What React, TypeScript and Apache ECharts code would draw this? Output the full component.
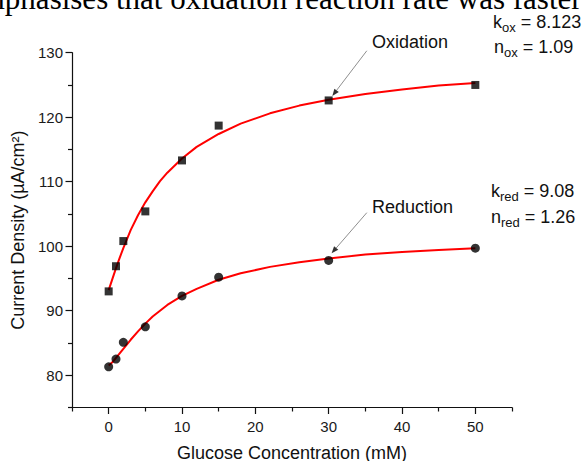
import React, { useEffect, useRef } from 'react';
import * as echarts from 'echarts';

// Measured data (glucose concentration in mM vs current density in µA/cm²)
const concentration = [0, 1, 2, 5, 10, 15, 30, 50];
const oxidation = [93.0, 96.9, 100.8, 105.4, 113.3, 118.7, 122.6, 125.0];
const reduction = [81.3, 82.5, 85.1, 87.5, 92.3, 95.2, 97.8, 99.7];

// Fitted curves at sample concentrations
const fitX = [0, 0.5, 1, 1.5, 2, 3, 4, 5, 6, 7, 8, 10, 12, 15, 18, 22, 26, 30, 35, 40, 45, 50];
const oxidationFit = [
  93.2, 94.9, 96.6, 98.2, 99.7, 102.5, 104.8, 106.8, 108.5, 110.1, 111.4, 113.6,
  115.4, 117.4, 119.0, 120.6, 121.8, 122.7, 123.6, 124.3, 124.9, 125.3,
];
const reductionFit = [
  81.5, 82.0, 82.7, 83.4, 84.1, 85.5, 86.8, 88.0, 89.1, 90.0, 90.9, 92.3,
  93.4, 94.8, 95.8, 96.8, 97.5, 98.1, 98.7, 99.1, 99.4, 99.7,
];

// Axis ticks
const xMajorTicks = [0, 10, 20, 30, 40, 50];
const xMinorTicks = [-5, 5, 15, 25, 35, 45, 55];
const yMajorTicks = [80, 90, 100, 110, 120, 130];
const yMinorTicks = [75, 85, 95, 105, 115, 125];

// Annotations
const oxidationArrow = { from: [35.2, 130.3], to: [30.5, 123.3] };
const reductionArrow = { from: [35.2, 105.2], to: [30.4, 98.9] };

const SANS = '"Liberation Sans", Arial, Helvetica, sans-serif';
const SERIF = '"Liberation Serif", "Times New Roman", serif';
const AXIS_COLOR = '#111';

const lineStyle = { color: AXIS_COLOR, width: 1.2 };

const option: any = {
  animation: false,
  backgroundColor: '#ffffff',
  grid: { left: 72, right: 71, top: 52.7, bottom: 53.5, outerBoundsMode: 'none' },
  xAxis: [
    {
      type: 'value',
      min: -5,
      max: 55,
      position: 'bottom',
      axisLine: { show: true, onZero: false, lineStyle },
      axisTick: { show: true, customValues: xMajorTicks, length: 6.5, lineStyle },
      axisLabel: { customValues: xMajorTicks, margin: 11, fontSize: 15, color: '#1a1a1a', fontFamily: SANS },
      splitLine: { show: false },
      name: 'Glucose Concentration (mM)',
      nameLocation: 'middle',
      nameGap: 36,
      nameTextStyle: { fontSize: 18, color: '#111', fontFamily: SANS },
    },
    {
      type: 'value',
      min: -5,
      max: 55,
      position: 'bottom',
      axisLine: { show: false, onZero: false },
      axisTick: { show: true, customValues: xMinorTicks, length: 4, lineStyle },
      axisLabel: { show: false },
      splitLine: { show: false },
    },
  ],
  yAxis: [
    {
      type: 'value',
      min: 75,
      max: 130,
      position: 'left',
      axisLine: { show: true, onZero: false, lineStyle },
      axisTick: { show: true, customValues: yMajorTicks, length: 6.5, lineStyle },
      axisLabel: { customValues: yMajorTicks, margin: 9, fontSize: 15, color: '#1a1a1a', fontFamily: SANS },
      splitLine: { show: false },
      name: 'Current Density (\u00B5A/cm\u00B2)',
      nameLocation: 'middle',
      nameGap: 38,
      nameTextStyle: { fontSize: 18, color: '#111', fontFamily: SANS },
    },
    {
      type: 'value',
      min: 75,
      max: 130,
      position: 'left',
      axisLine: { show: false, onZero: false },
      axisTick: { show: true, customValues: yMinorTicks, length: 4, lineStyle },
      axisLabel: { show: false },
      splitLine: { show: false },
    },
  ],
  series: [
    {
      type: 'line',
      name: 'Oxidation fit',
      data: fitX.map((x, i) => [x, oxidationFit[i]]),
      smooth: false,
      showSymbol: false,
      symbol: 'none',
      lineStyle: { color: '#ff0000', width: 2 },
      z: 2,
    },
    {
      type: 'line',
      name: 'Reduction fit',
      data: fitX.map((x, i) => [x, reductionFit[i]]),
      smooth: false,
      showSymbol: false,
      symbol: 'none',
      lineStyle: { color: '#ff0000', width: 2 },
      z: 2,
    },
    {
      type: 'scatter',
      name: 'Oxidation',
      data: concentration.map((x, i) => [x, oxidation[i]]),
      symbol: 'rect',
      symbolSize: 8,
      itemStyle: { color: '#000' },
      z: 3,
    },
    {
      type: 'scatter',
      name: 'Reduction',
      data: concentration.map((x, i) => [x, reduction[i]]),
      symbol: 'circle',
      symbolSize: 9,
      itemStyle: { color: '#000' },
      z: 3,
    },
  ],
};

function subText(main: string, sub: string, rest: string) {
  return `{m|${main}}{s|${sub}}{m|${rest}}`;
}

const rich = {
  m: { fontSize: 18, fontFamily: SANS, fill: '#111', lineHeight: 24 },
  s: { fontSize: 13, fontFamily: SANS, fill: '#111', lineHeight: 12, verticalAlign: 'bottom' },
};

const textElements: any[] = [
  {
    type: 'text',
    x: -33,
    y: -2,
    style: {
      text: 'emphasises that oxidation reaction rate was faster',
      fontSize: 31,
      lineHeight: 20,
      fontFamily: SERIF,
      fill: '#000',
      align: 'left',
      verticalAlign: 'middle',
    },
  },
  { type: 'text', x: 372, y: 41.5, style: { text: 'Oxidation', fontSize: 18, fontFamily: SANS, fill: '#111', align: 'left', verticalAlign: 'middle' } },
  { type: 'text', x: 372, y: 206.7, style: { text: 'Reduction', fontSize: 18, fontFamily: SANS, fill: '#111', align: 'left', verticalAlign: 'middle' } },
  { type: 'text', x: 493, y: 21.5, style: { text: subText('k', 'ox', ' = 8.123'), rich, align: 'left', verticalAlign: 'middle' } },
  { type: 'text', x: 494, y: 47, style: { text: subText('n', 'ox', ' = 1.09'), rich, align: 'left', verticalAlign: 'middle' } },
  { type: 'text', x: 491, y: 191, style: { text: subText('k', 'red', ' = 9.08'), rich, align: 'left', verticalAlign: 'middle' } },
  { type: 'text', x: 491, y: 217, style: { text: subText('n', 'red', ' = 1.26'), rich, align: 'left', verticalAlign: 'middle' } },
];

function buildArrow(chart: any, arrow: { from: number[]; to: number[] }) {
  const p0 = chart.convertToPixel({ xAxisIndex: 0, yAxisIndex: 0 }, arrow.from);
  const p1 = chart.convertToPixel({ xAxisIndex: 0, yAxisIndex: 0 }, arrow.to);
  const dx = p1[0] - p0[0];
  const dy = p1[1] - p0[1];
  const len = Math.sqrt(dx * dx + dy * dy);
  const ux = dx / len;
  const uy = dy / len;
  const headLen = 7;
  const headHalf = 2.8;
  const bx = p1[0] - ux * headLen;
  const by = p1[1] - uy * headLen;
  return [
    {
      type: 'line',
      shape: { x1: p0[0], y1: p0[1], x2: bx, y2: by },
      style: { stroke: '#8f8f8f', lineWidth: 1 },
      z: 10,
    },
    {
      type: 'polygon',
      shape: {
        points: [
          [p1[0], p1[1]],
          [bx - uy * headHalf, by + ux * headHalf],
          [bx + uy * headHalf, by - ux * headHalf],
        ],
      },
      style: { fill: '#333' },
      z: 10,
    },
  ];
}

export default function App() {
  const ref = useRef<HTMLDivElement>(null);
  useEffect(() => {
    if (!ref.current) return;
    const chart = echarts.init(ref.current, null, { renderer: 'svg' });
    chart.setOption(option);
    const graphics = [
      ...textElements,
      ...buildArrow(chart, oxidationArrow),
      ...buildArrow(chart, reductionArrow),
    ];
    chart.setOption({ graphic: graphics });
    return () => chart.dispose();
  }, []);
  return (
    <div
      ref={ref}
      style={{ position: 'fixed', left: 0, top: 0, width: 583, height: 461, background: '#fff' }}
    />
  );
}
